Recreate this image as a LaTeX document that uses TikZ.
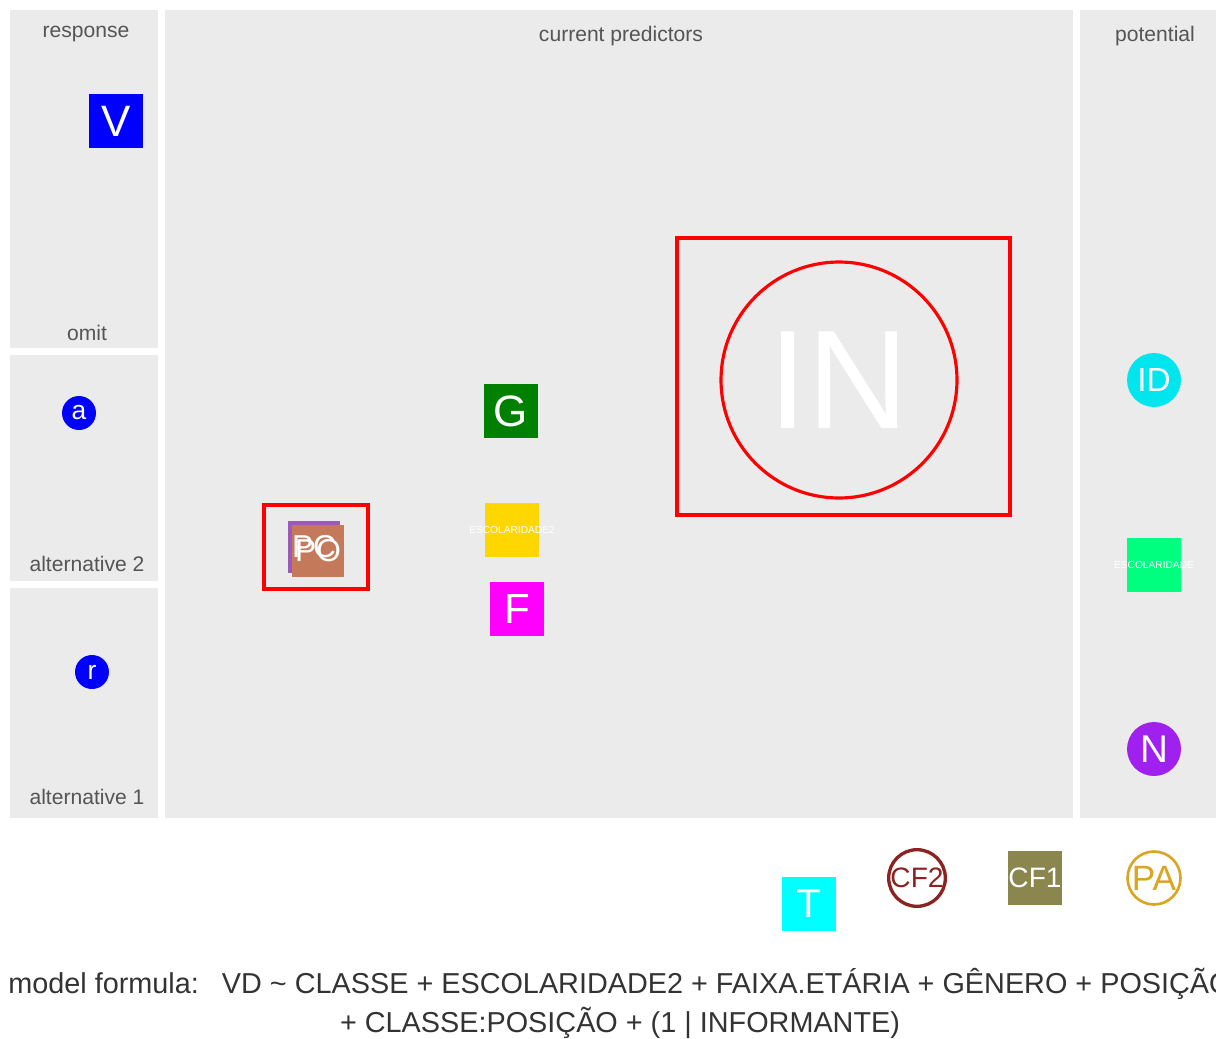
\documentclass[tikz,border=0pt]{standalone}
\usepackage{fontspec}
\setmainfont{Liberation Sans}
\usetikzlibrary{calc}
\definecolor{panelgray}{HTML}{EBEBEB}
\definecolor{labelgray}{HTML}{555555}
\definecolor{formulagray}{HTML}{333333}
\definecolor{vblue}{HTML}{0000FF}
\definecolor{ggreen}{HTML}{008000}
\definecolor{escyellow}{HTML}{FFD700}
\definecolor{fmagenta}{HTML}{FF00FF}
\definecolor{pcpurple}{HTML}{9A5AB8}
\definecolor{pobrown}{HTML}{C47A5A}
\definecolor{idcyan}{HTML}{00E5EE}
\definecolor{escgreen}{HTML}{00FF7F}
\definecolor{npurple}{HTML}{A020F0}
\definecolor{tcyan}{HTML}{00FFFF}
\definecolor{cftwo}{HTML}{8B2323}
\definecolor{cfone}{HTML}{8B864E}
\definecolor{pagold}{HTML}{DAA520}
\newcommand{\fs}[1]{\fontsize{#1}{#1}\selectfont}
\tikzset{
  panelbox/.style={fill=panelgray, draw=none},
  paneltxt/.style={text=labelgray, font=\fs{12}},
  varsq/.style={rectangle, fill=#1, minimum size=1.08cm, inner sep=0pt, text=white},
  varcirc/.style={circle, fill=#1, inner sep=0pt, text=white},
  ringcirc/.style={circle, draw=#1, fill=white, line width=1.9pt, inner sep=0pt,
    minimum size=1.06cm, text=#1},
  tinytxt/.style={font=\fs{5.8}, text=white},
  selbox/.style={draw=red, line width=2.3pt}
}

\begin{document}
\begin{tikzpicture}[x={(0.02cm,0)}, y={(0,-0.02cm)}]
  \useasboundingbox (0,0) rectangle (1216,1038);
  % panels
  \fill[panelbox] (10,10) rectangle (158,348);
  \fill[panelbox] (10,355) rectangle (158,581);
  \fill[panelbox] (10,588) rectangle (158,818);
  \fill[panelbox] (165,10) rectangle (1073,818);
  \fill[panelbox] (1080,10) rectangle (1216,818);
  \node[paneltxt] (lresp) at (86,34) {response};
  \node[paneltxt] (lomit) at (87,333) {omit};
  \node[paneltxt] (lalt2) at (87,564) {alternative 2};
  \node[paneltxt] (lalt1) at (87,797) {alternative 1};
  \node[paneltxt] (lcur) at (621,36) {current predictors};
  \node[paneltxt] (lpot) at (1155,36) {potential};

  % response and levels
  \node[varsq=vblue, font=\fs{25}] (V) at (116,121) {V};
  \node[varcirc=vblue, minimum size=0.68cm, font=\fs{15}] (a) at (79,413) {a};
  \node[varcirc=vblue, minimum size=0.68cm, font=\fs{15}] (r) at (92,672) {r};

  % current predictors
  \node[varsq=ggreen, font=\fs{25}] (G) at (511,411) {G};
  \node[varsq=escyellow] (esc2) at (512,530) {};
  \node[tinytxt] (esc2txt) at (esc2.center) {ESCOLARIDADE2};
  \node[varsq=fmagenta, font=\fs{24}] (F) at (517,609) {F};
  \node[varsq=pcpurple, minimum size=1.04cm] (PC) at (314,547) {};
  \node[varsq=pobrown, minimum size=1.04cm, font=\fs{18}] (PO) at (318,551) {PO};
  \node[text=white, font=\fs{18}] (PCtxt) at (PC.center) {PC};
  \draw[selbox] (264,505) rectangle (368,589);
  \draw[selbox] (677,238) rectangle (1010,515);
  \node[circle, draw=red, line width=1.8pt, minimum size=4.72cm, inner sep=0pt,
    text=white, font=\fs{80}] (IN) at (839,380) {IN};

  % potential
  \node[varcirc=idcyan, minimum size=1.08cm, font=\fs{19}] (ID) at (1154,380) {ID};
  \node[varsq=escgreen] (esc) at (1154,565) {};
  \node[tinytxt] (esctxt) at (esc.center) {ESCOLARIDADE};
  \node[varcirc=npurple, minimum size=1.08cm, font=\fs{22}] (N) at (1154,749) {N};

  % outside
  \node[varsq=tcyan, font=\fs{23}] (T) at (809,904) {T};
  \node[ringcirc=cftwo, font=\fs{16}] (CF2) at (917,878) {CF2};
  \node[varsq=cfone, font=\fs{16}] (CF1) at (1035,878) {CF1};
  \node[ringcirc=pagold, line width=1.5pt, font=\fs{20}] (PA) at (1154,878) {PA};

  % formula
  \node[anchor=base west, inner sep=0pt, text=formulagray, font=\fs{16.4}] (form1) at (8,993)
    {model formula:\hspace{0.8em}VD \textasciitilde{} CLASSE + ESCOLARIDADE2 + FAIXA.ETÁRIA + GÊNERO + POSIÇÃO};
  \node[anchor=base, inner sep=0pt, text=formulagray, font=\fs{16.4}] (form2) at (620,1032)
    {+ CLASSE:POSIÇÃO + (1 | INFORMANTE)};
\end{tikzpicture}
\end{document}
